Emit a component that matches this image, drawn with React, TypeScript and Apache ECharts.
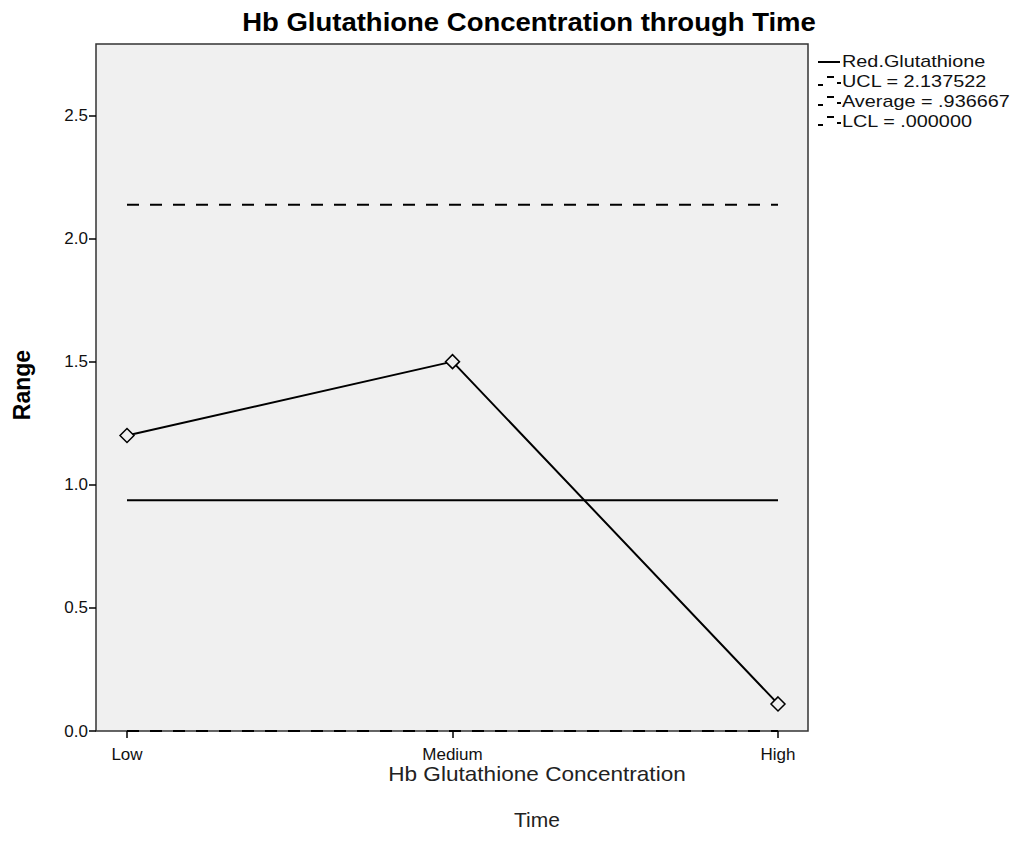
import React, { useEffect, useRef } from "react";
import * as echarts from "echarts";

const categories: string[] = ["Low", "Medium", "High"];
const rangeValues: number[] = [1.2, 1.5, 0.11];
const ucl = 2.137522;
const average = 0.936667;
const lcl = 0.0;
const legendLabels: string[] = [
  "Red.Glutathione",
  "UCL = 2.137522",
  "Average = .936667",
  "LCL = .000000",
];
const yTicks: number[] = [0, 0.5, 1.0, 1.5, 2.0, 2.5];

const FONT = "'Liberation Sans', Arial, sans-serif";

export default function App() {
  const ref = useRef<HTMLDivElement>(null);
  useEffect(() => {
    if (!ref.current) return;
    const chart = echarts.init(ref.current, null, { renderer: "svg" });
    const catIdx = categories.map((_, i) => i);
    const gl = 96, gt = 44, gw = 712, gh = 687;
    const legendX = 818;
    const legendY0 = 62;
    const legendStep = 20;
    const legendGraphics: any[] = [];
    legendLabels.forEach((lab, i) => {
      const y = legendY0 + i * legendStep;
      if (i === 0) {
        legendGraphics.push({
          type: "line",
          shape: { x1: legendX, y1: y, x2: legendX + 22, y2: y },
          style: { stroke: "#000", lineWidth: 2 },
        });
      } else {
        legendGraphics.push({
          type: "line",
          shape: { x1: legendX, y1: y + 3, x2: legendX + 5, y2: y + 3 },
          style: { stroke: "#000", lineWidth: 2 },
        });
        legendGraphics.push({
          type: "line",
          shape: { x1: legendX + 9, y1: y - 5, x2: legendX + 16, y2: y - 5 },
          style: { stroke: "#000", lineWidth: 2 },
        });
        legendGraphics.push({
          type: "line",
          shape: { x1: legendX + 19, y1: y + 1, x2: legendX + 23, y2: y + 1 },
          style: { stroke: "#000", lineWidth: 2 },
        });
      }
      legendGraphics.push({
        type: "text",
        x: legendX + 24,
        y: y,
        scaleX: 1.24,
        style: {
          text: lab,
          font: `16px ${FONT}`,
          fill: "#111",
          textVerticalAlign: "middle",
          textAlign: "left",
        },
      });
    });

    const limitSeries = (name: string, v: number, dashed: boolean) => ({
      name,
      type: "line",
      data: [
        [0, v],
        [categories.length - 1, v],
      ],
      symbol: "none",
      lineStyle: {
        color: "#000",
        width: 2,
        type: dashed ? [12, 11] : "solid",
      },
      z: 3,
    });

    chart.setOption({
      animation: false,
      backgroundColor: "#fff",
      grid: {
        left: gl,
        top: gt,
        width: gw,
        height: gh,
        show: true,
        backgroundColor: "#f0f0f0",
        borderColor: "#333",
        borderWidth: 1.5,
        containLabel: false,
      },
      xAxis: {
        type: "value",
        min: -31 / 325.5,
        max: 2 + 30 / 325.5,
        splitLine: { show: false },
        axisLine: { show: false, onZero: false },
        axisTick: {
          show: true,
          customValues: catIdx,
          length: 7,
          lineStyle: { color: "#000", width: 1.5 },
        },
        axisLabel: {
          customValues: catIdx,
          formatter: (v: number) => categories[Math.round(v)] ?? "",
          color: "#111",
          fontFamily: FONT,
          fontSize: 17,
          margin: 15,
        },
      },
      yAxis: {
        type: "value",
        min: 0,
        max: 2.79,
        splitLine: { show: false },
        axisLine: { show: false, onZero: false },
        axisTick: {
          show: true,
          customValues: yTicks,
          length: 7,
          lineStyle: { color: "#000", width: 1.5 },
        },
        axisLabel: {
          customValues: yTicks,
          formatter: (v: number) => v.toFixed(1),
          color: "#111",
          fontFamily: FONT,
          fontSize: 17,
          margin: 8,
        },
      },
      series: [
        {
          name: "Red.Glutathione",
          type: "line",
          data: rangeValues.map((v, i) => [i, v]),
          symbol: "diamond",
          symbolSize: 14,
          itemStyle: { color: "#f0f0f0", borderColor: "#000", borderWidth: 1.5 },
          lineStyle: { color: "#000", width: 2 },
          z: 5,
        },
        limitSeries("UCL", ucl, true),
        limitSeries("Average", average, false),
        limitSeries("LCL", lcl, true),
      ],
      graphic: [
        {
          type: "text",
          x: 529,
          y: 22,
          scaleX: 1.1,
          style: {
            text: "Hb Glutathione Concentration through Time",
            font: `bold 25px ${FONT}`,
            fill: "#000",
            textAlign: "center",
            textVerticalAlign: "middle",
          },
        },
        {
          type: "text",
          x: 22,
          y: 385,
          rotation: Math.PI / 2,
          style: {
            text: "Range",
            font: `bold 23px ${FONT}`,
            fill: "#000",
            textAlign: "center",
            textVerticalAlign: "middle",
          },
        },
        {
          type: "text",
          x: 537,
          y: 774,
          scaleX: 1.13,
          style: {
            text: "Hb Glutathione Concentration",
            font: `20px ${FONT}`,
            fill: "#222",
            textAlign: "center",
            textVerticalAlign: "middle",
          },
        },
        {
          type: "text",
          x: 537,
          y: 820,
          scaleX: 1.05,
          style: {
            text: "Time",
            font: `20px ${FONT}`,
            fill: "#222",
            textAlign: "center",
            textVerticalAlign: "middle",
          },
        },
        ...legendGraphics,
      ],
    });
    return () => chart.dispose();
  }, []);
  return (
    <div
      ref={ref}
      style={{ width: 1024, height: 852, position: "absolute", left: 0, top: 0 }}
    />
  );
}
